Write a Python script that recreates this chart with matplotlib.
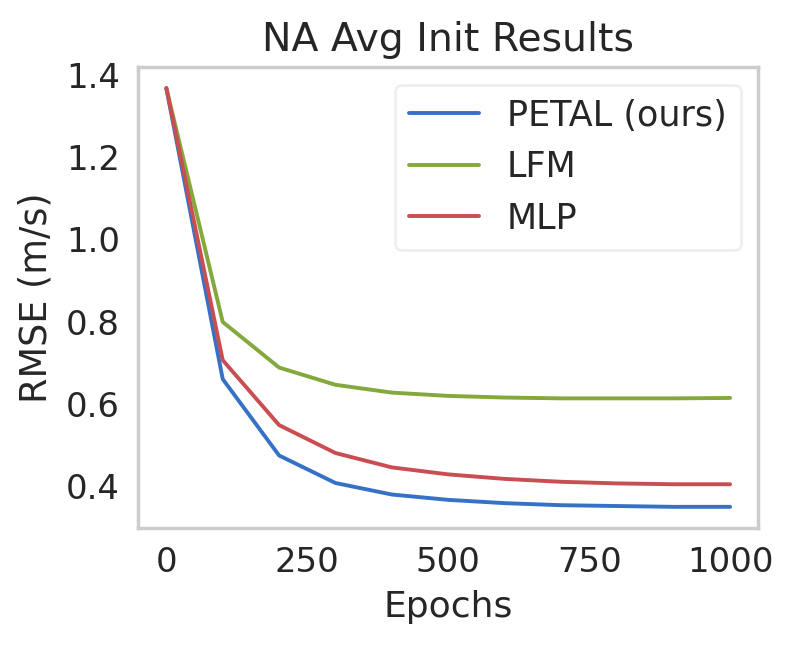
import matplotlib
matplotlib.use("Agg")
import matplotlib.pyplot as plt
import seaborn as sns

epochs = [0, 100, 200, 300, 400, 500, 600, 700, 800, 900, 1000]
petal = [1.368, 0.660, 0.474, 0.407, 0.379, 0.366, 0.358, 0.353, 0.351, 0.349, 0.349]
lfm = [1.368, 0.799, 0.688, 0.646, 0.627, 0.619, 0.615, 0.613, 0.613, 0.613, 0.614]
mlp = [1.368, 0.706, 0.548, 0.480, 0.445, 0.428, 0.417, 0.410, 0.406, 0.404, 0.404]

sns.set_theme(style="whitegrid")
plt.rcParams["font.family"] = ["DejaVu Sans"]

fig, ax = plt.subplots(figsize=(3.97, 3.23), dpi=200)
fig.subplots_adjust(left=0.174, right=0.955, bottom=0.183, top=0.896)

ax.plot(epochs, petal, color="#3572C6", lw=1.4, label="PETAL (ours)")
ax.plot(epochs, lfm, color="#83A83B", lw=1.4, label="LFM")
ax.plot(epochs, mlp, color="#C84E52", lw=1.4, label="MLP")

ax.grid(False)
ax.set_title("NA Avg Init Results", fontsize=14.2)
ax.set_xlabel("Epochs", fontsize=13)
ax.set_ylabel("RMSE (m/s)", fontsize=13.2)
ax.set_xticks([0, 250, 500, 750, 1000])
ax.set_yticks([0.4, 0.6, 0.8, 1.0, 1.2, 1.4])
ax.tick_params(labelsize=12.2, length=0, pad=6.5)
leg = ax.legend(loc="upper right", fontsize=12.6)
leg.get_frame().set_edgecolor("#ebebeb")

fig.savefig("out.png", dpi=200)
